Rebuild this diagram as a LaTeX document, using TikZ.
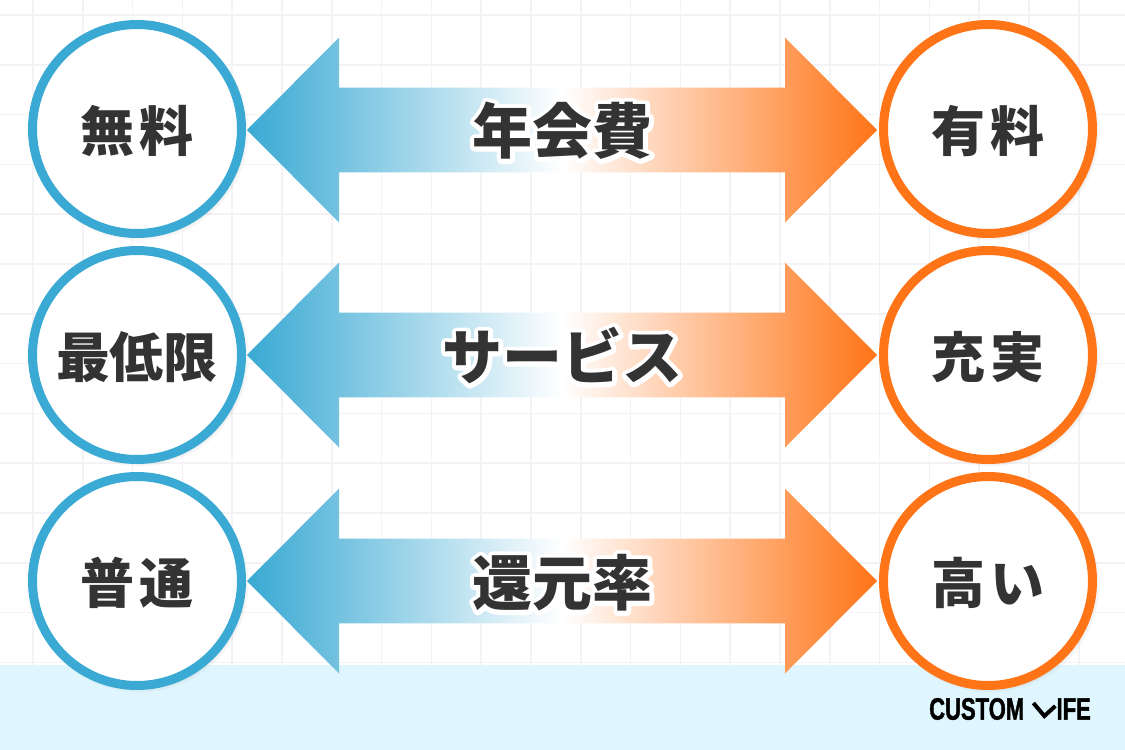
\documentclass[tikz,border=0pt]{standalone}
\usepackage{fontspec}
\setmainfont{Noto Sans CJK JP}
\newfontfamily\gapfont[LetterSpace=10]{Noto Sans CJK JP}
\newfontfamily\logofont[FakeStretch=0.71,BoldFeatures={FakeBold=1.2}]{Liberation Sans}
\definecolor{myblue}{RGB}{58,169,211}
\definecolor{myorange}{RGB}{255,116,23}
\definecolor{myink}{RGB}{51,51,51}
\definecolor{mysky}{RGB}{224,246,254}
\definecolor{mygrid}{RGB}{243,243,246}
\usetikzlibrary{calc,positioning,shadows}
\tikzstyle{endcircle}=[draw,fill=white,circle,minimum size=209pt,inner sep=0pt,line width=9pt,text=myink,text height=53pt,text depth=8pt,font=\gapfont\bfseries\fontsize{54pt}{58pt}\selectfont,circular drop shadow={shadow scale=1.05,shadow xshift=2pt,shadow yshift=-2pt,opacity=.45}]
\tikzstyle{freecircle}=[endcircle,draw=myblue]
\tikzstyle{paidcircle}=[endcircle,draw=myorange]
\tikzstyle{midlabel}=[inner sep=0pt,text=myink,text height=57.6pt,text depth=8pt,font=\bfseries\fontsize{60pt}{64pt}\selectfont]
\tikzstyle{logotext}=[inner sep=0pt,text=black,font=\logofont\bfseries\fontsize{31pt}{33pt}\selectfont]
\tikzstyle{gridline}=[draw=mygrid,line width=1.5pt]
\tikzstyle{bigarrow}=[left color=myblue,right color=myorange,middle color=white]
\newcommand{\bothways}[3]{
  \shade[bigarrow] ($(#1.east)+(1,#3)$) -- ($(#1.east)+(93,-92.5+#3)$) -- ($(#1.east)+(93,-42.4+#3)$)
    -- ($(#2.west)+(-94,-42.4+#3)$) -- ($(#2.west)+(-94,-92.5+#3)$) -- ($(#2.west)+(-2,#3)$)
    -- ($(#2.west)+(-94,92.5+#3)$) -- ($(#2.west)+(-94,42.4+#3)$)
    -- ($(#1.east)+(93,42.4+#3)$) -- ($(#1.east)+(93,92.5+#3)$) -- cycle;
}
% white rim round the middle words
\newcommand{\rimmed}[1]{\leavevmode\rlap{\special{pdf:code q 1 J 1 j 9 w 1 1 1 RG 1 Tr}#1\special{pdf:code Q}}#1}
\begin{document}
\begin{tikzpicture}[x=1pt,y=-1pt]
\useasboundingbox (0,0) rectangle (1125,750);
\fill[white] (0,0) rectangle (1125,750);
\foreach \i in {0,...,21}
  \draw[gridline] (33+49.8*\i,0) -- (33+49.8*\i,665);
\foreach \i in {0,...,13}
  \draw[gridline] (0,15+49.8*\i) -- (1125,15+49.8*\i);
\fill[mysky] (0,665) rectangle (1125,750);

\node [freecircle] (free) at (137,129) {無料};
\node [freecircle, below=8pt of free, font=\bfseries\fontsize{54pt}{58pt}\selectfont] (least) {最低限};
\node [freecircle, below=8pt of least] (normal) {普通};
\node [paidcircle, right=633pt of free] (paid) {有料};
\node [paidcircle, right=633pt of least] (full) {充実};
\node [paidcircle, right=633pt of normal] (high) {高い};

\bothways{free}{paid}{1}
\bothways{least}{full}{0}
\bothways{normal}{high}{0}

\node [midlabel] (fee) at ($(free)!.5!(paid)$) {\rimmed{年会費}};
\node [midlabel] (service) at ($(least)!.5!(full)$) {\rimmed{サービス}};
\node [midlabel] (rate) at ($(normal)!.5!(high)$) {\rimmed{還元率}};

\node [logotext, anchor=west] (custom) at (929,709) {CUSTOM};
\node [logotext, anchor=east] (ife) at (1091,709) {IFE};
\draw [line width=4pt] ($(ife.west)+(-23,-6)$) -- ($(ife.west)+(-12,7)$) -- ($(ife.west)+(-1,-3)$);
\end{tikzpicture}
\end{document}
